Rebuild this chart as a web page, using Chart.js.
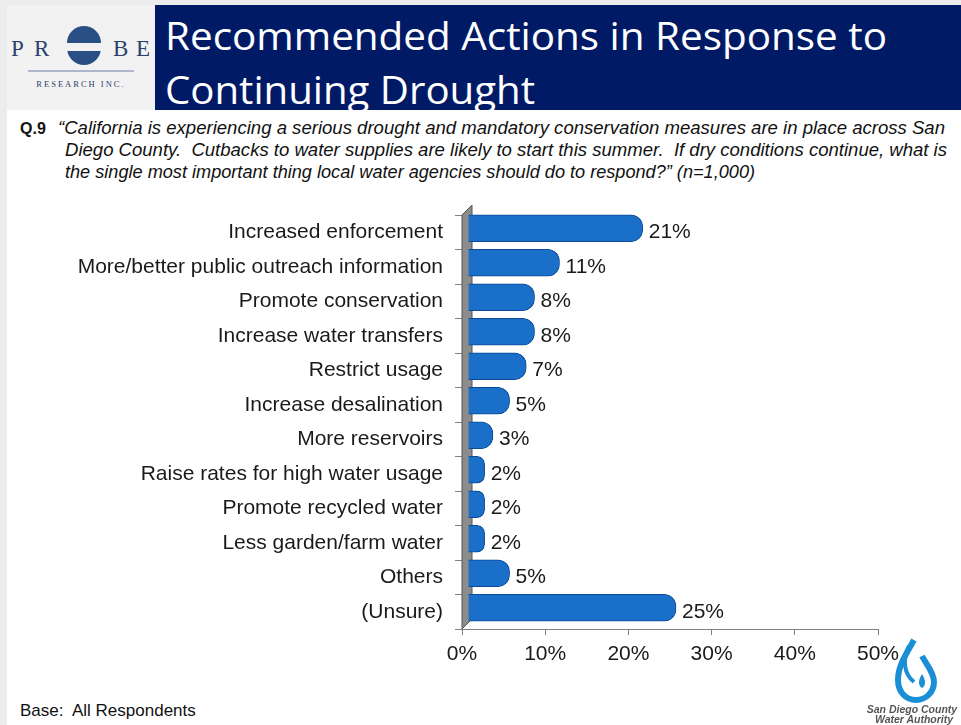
<!DOCTYPE html>
<html>
<head>
<meta charset="utf-8">
<script src="https://cdn.jsdelivr.net/npm/chart.js@4.4.0/dist/chart.umd.min.js"></script>
<style>
  html, body { margin: 0; padding: 0; }
  body { width: 961px; height: 725px; position: relative; background: #fff; overflow: hidden; font-family: "Liberation Sans", Arial, sans-serif; }
  .edge-left { position: absolute; left: 0; top: 0; width: 7px; height: 725px; background: #ececec; }
  .edge-top { position: absolute; left: 0; top: 0; width: 961px; height: 5px; background: #ececec; }
  .logo { position: absolute; left: 7px; top: 5px; width: 148px; height: 105px; background: #f2f2f2; }
  .band { position: absolute; left: 155px; top: 5px; width: 806px; height: 105px; background: #001a66; }
  .fit { position: absolute; white-space: nowrap; transform-origin: 0 0; }
  .title { color: #fff; font-family: "Open Sans", sans-serif; font-size: 38px; line-height: 54px; }
  .q { font-size: 18px; line-height: 22px; color: #111; font-style: italic; }
  .qnum { position: absolute; left: 20px; top: 118px; font-size: 16px; font-weight: bold; line-height: 22px; color: #111; }
  .base { position: absolute; left: 20px; top: 701px; font-size: 17px; color: #111; }
  #chartBox { position: absolute; left: 0; top: 190px; width: 961px; height: 500px; }
  .sdcwa { position: absolute; left: 862px; top: 636px; width: 99px; height: 89px; }
</style>
</head>
<body>
<div class="edge-top"></div>
<div class="edge-left"></div>
<div class="logo">
  <svg width="148" height="105" viewBox="0 0 148 105">
    <g font-family="Liberation Serif, serif" font-size="23" fill="#2b3f6b">
      <text x="4" y="51">P</text>
      <text x="27" y="51">R</text>
      <text x="106" y="51">B</text>
      <text x="129" y="51">E</text>
    </g>
    <circle cx="77" cy="43" r="17" fill="#2a4f85"/>
    <rect x="57" y="38" width="40" height="8" fill="#f2f2f2"/>
    <path d="M60 38 A17 17 0 0 1 94 38 Z" fill="#2a4f85"/>
    <line x1="21" y1="66" x2="127" y2="66" stroke="#6a7fa8" stroke-width="1"/>
    <text x="74" y="82" text-anchor="middle" font-family="Liberation Serif, serif" font-size="8.5" letter-spacing="2" fill="#2b3f6b">RESEARCH INC.</text>
  </svg>
</div>
<div class="band"></div>
<div class="fit title" data-w="722" style="left:165px; top:8px;">Recommended Actions in Response to</div>
<div class="fit title" data-w="370" style="left:165px; top:62px;">Continuing Drought</div>
<div class="qnum">Q.9</div>
<div class="fit q" data-w="887" style="left:58px; top:117px;">“California is experiencing a serious drought and mandatory conservation measures are in place across San</div>
<div class="fit q" data-w="882" style="left:65px; top:139px;">Diego County.&nbsp; Cutbacks to water supplies are likely to start this summer.&nbsp; If dry conditions continue, what is</div>
<div class="fit q" data-w="690" style="left:65px; top:161px;">the single most important thing local water agencies should do to respond?” (n=1,000)</div>
<div id="chartBox"><canvas id="chart" width="961" height="500"></canvas></div>
<div class="base">Base:&nbsp; All Respondents</div>
<div class="sdcwa">
  <svg width="99" height="89" viewBox="0 0 99 89">
    <path d="M52 4 C44 18 36 30 36 44 C36 56 44 64 54 64 C64 64 72 56 72 46 C72 36 64 28 60 20" fill="none" stroke="#1b8fd6" stroke-width="6"/>
    <path d="M47 10 C40 24 42 38 52 46" fill="none" stroke="#1b8fd6" stroke-width="4"/>
    <path d="M60 38 C56 44 56 50 60 52 C64 50 64 44 60 38 Z" fill="#1b8fd6"/>
    <text x="50" y="77" text-anchor="middle" font-family="Liberation Sans, sans-serif" font-style="italic" font-weight="bold" font-size="10.5" fill="#555">San Diego County</text>
    <text x="52" y="87" text-anchor="middle" font-family="Liberation Sans, sans-serif" font-style="italic" font-weight="bold" font-size="10.5" fill="#555">Water Authority</text>
  </svg>
</div>

<script>
// categories and values
const categories = [
    "Increased enforcement",
    "More/better public outreach information",
    "Promote conservation",
    "Increase water transfers",
    "Restrict usage",
    "Increase desalination",
    "More reservoirs",
    "Raise rates for high water usage",
    "Promote recycled water",
    "Less garden/farm water",
    "Others",
    "(Unsure)"
];
const percents = [21, 11, 8, 8, 7, 5, 3, 2, 2, 2, 5, 25];
const xTicks = [0, 10, 20, 30, 40, 50];

const DEPTH = 8; // 3D offset of the bars
const FONT = "'Liberation Sans', Arial, sans-serif";

// squeeze header / question lines to the widths seen in the slide
document.querySelectorAll(".fit").forEach(el => {
    let w = el.getBoundingClientRect().width;
    el.style.transform = "scaleX(" + (Number(el.dataset.w) / w) + ")";
});

// gray 3D wall behind the bars
const wallPlugin = {
    id: "wall",
    beforeDatasetsDraw(chart) {
        let ctx = chart.ctx;
        let a = chart.chartArea;
        ctx.save();
        ctx.fillStyle = "#8c8c8c";
        ctx.beginPath();
        ctx.moveTo(a.left, a.top);
        ctx.lineTo(a.left + DEPTH + 2, a.top - 10);
        ctx.lineTo(a.left + DEPTH + 2, a.bottom - 10);
        ctx.lineTo(a.left, a.bottom);
        ctx.closePath();
        ctx.fill();
        ctx.strokeStyle = "#555";
        ctx.lineWidth = 1;
        ctx.stroke();
        ctx.restore();
        // shift bars to sit on the wall
        ctx.save();
        ctx.translate(DEPTH - 2, -4);
    },
    afterDatasetsDraw(chart) {
        chart.ctx.restore();
    }
};

// value labels at the end of each bar
const labelPlugin = {
    id: "valueLabels",
    afterDatasetsDraw(chart) {
        let ctx = chart.ctx;
        ctx.save();
        ctx.font = "21px " + FONT;
        ctx.fillStyle = "#1a1a1a";
        ctx.textAlign = "left";
        ctx.textBaseline = "middle";
        chart.getDatasetMeta(0).data.forEach((bar, i) => {
            ctx.fillText(percents[i] + "%", bar.x + DEPTH + 4, bar.y);
        });
        ctx.restore();
    }
};

let ctx = document.getElementById("chart").getContext("2d");

new Chart(ctx, {
    type: "bar",
    data: {
        labels: categories,
        datasets: [{
            data: percents,
            backgroundColor: function (c) {
                let bar = c.element;
                if (!bar || bar.y === undefined) return "#1a6fc8";
                let g = c.chart.ctx.createLinearGradient(0, bar.y - 13, 0, bar.y + 13);
                g.addColorStop(0, "#4f9fe8");
                g.addColorStop(0.2, "#2b82d8");
                g.addColorStop(0.65, "#1466c4");
                g.addColorStop(1, "#0a468f");
                return g;
            },
            borderColor: "#0b4a98",
            borderWidth: 1,
            borderSkipped: "start",
            borderRadius: { topRight: 12, bottomRight: 12 },
            barThickness: 27
        }]
    },
    options: {
        indexAxis: "y",
        responsive: false,
        animation: false,
        layout: { padding: { left: 0, right: 83, top: 25, bottom: 0 } },
        plugins: { legend: { display: false }, tooltip: { enabled: false } },
        scales: {
            x: {
                min: 0,
                max: 50,
                afterBuildTicks: function (scale) {
                    scale.ticks = xTicks.map(v => ({ value: v }));
                },
                afterFit: function (scale) { scale.height = 61; },
                ticks: {
                    callback: v => v + "%",
                    color: "#1a1a1a",
                    font: { family: FONT, size: 21 },
                    padding: 7,
                    maxRotation: 0
                },
                grid: { drawOnChartArea: false, tickLength: 6, color: "#7f7f7f" },
                border: { color: "#7f7f7f" }
            },
            y: {
                afterFit: function (scale) { scale.width = 462; },
                ticks: {
                    color: "#1a1a1a",
                    font: { family: FONT, size: 21 },
                    padding: 12,
                    autoSkip: false
                },
                grid: { drawOnChartArea: false, tickLength: 7, color: "#7f7f7f", offset: true },
                border: { color: "#7f7f7f" }
            }
        }
    },
    plugins: [wallPlugin, labelPlugin]
});
</script>
</body>
</html>
